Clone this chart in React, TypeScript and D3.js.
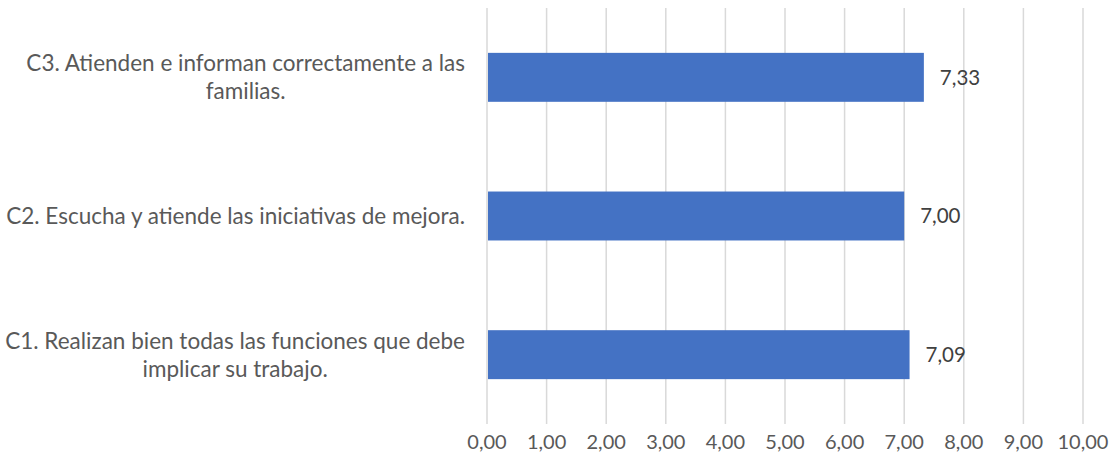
import { useEffect, useRef } from "react";
import * as d3 from "d3";

// categorías (de arriba a abajo) y valores
const categories = ["C3", "C2", "C1"];
const labelLines = [
  ["C3. Atienden e informan correctamente a las", "familias."],
  ["C2. Escucha y atiende las iniciativas de mejora."],
  ["C1. Realizan bien todas las funciones que debe", "implicar su trabajo."],
];
const values = [7.33, 7.0, 7.09];
const ticks = [0, 1, 2, 3, 4, 5, 6, 7, 8, 9, 10];

const fmt = (v: number) => v.toFixed(2).replace(".", ",");

export default function App() {
  const svgRef = useRef<SVGSVGElement>(null);

  useEffect(() => {
    if (!svgRef.current) return;
    const svg = d3.select(svgRef.current);
    svg.selectAll("*").remove();

    const W = 1120;
    const H = 471;
    const left = 487;
    const right = 1083;
    const top = 8;
    const bottom = 424;
    const textColor = "#595959";
    const font = "Lato, 'Open Sans', sans-serif";

    const x = d3.scaleLinear().domain([0, 10]).range([left, right]);
    const y = d3.scaleBand().domain(categories).range([top, bottom]).paddingInner(0.647).paddingOuter(0.3235);

    svg.append("rect").attr("width", W).attr("height", H).attr("fill", "white");

    // rejilla
    svg.append("g").selectAll("line")
      .data(ticks)
      .join("line")
      .attr("x1", (d) => x(d)).attr("x2", (d) => x(d))
      .attr("y1", top).attr("y2", bottom)
      .attr("stroke", "#d9d9d9").attr("stroke-width", 1.5);

    // barras
    svg.append("g").selectAll("rect")
      .data(values)
      .join("rect")
      .attr("x", x(0) + 1)
      .attr("y", (_, i) => y(categories[i])!)
      .attr("width", (d) => x(d) - x(0) - 1)
      .attr("height", y.bandwidth())
      .attr("fill", "#4472c4");

    // etiquetas de valor
    svg.append("g").selectAll("text")
      .data(values)
      .join("text")
      .attr("x", (d) => x(d) + 16)
      .attr("y", (_, i) => y(categories[i])! + y.bandwidth() / 2)
      .attr("dy", "0.35em")
      .attr("fill", "#404040")
      .style("font-family", font).style("font-size", "20.5px")
      .text((d) => fmt(d));

    // eje x
    svg.append("g").selectAll("text")
      .data(ticks)
      .join("text")
      .attr("x", (d) => x(d))
      .attr("y", 442)
      .attr("dy", "0.35em")
      .attr("text-anchor", "middle")
      .attr("fill", textColor)
      .style("font-family", font).style("font-size", "20px")
      .text((d) => fmt(d));

    // etiquetas de categoría: bloque alineado a la derecha, líneas centradas
    const labelRight = 465;
    const lineH = 28;
    labelLines.forEach((lines, i) => {
      const cy = y(categories[i])! + y.bandwidth() / 2;
      const g = svg.append("g");
      const texts = g.selectAll("text")
        .data(lines)
        .join("text")
        .attr("y", (_, j) => cy + (j - (lines.length - 1) / 2) * lineH)
        .attr("dy", "0.35em")
        .attr("text-anchor", "middle")
        .attr("fill", textColor)
        .style("font-family", font).style("font-size", "22.5px")
        .text((d) => d);
      let maxW = 0;
      texts.each(function () {
        maxW = Math.max(maxW, (this as SVGTextElement).getComputedTextLength());
      });
      texts.attr("x", labelRight - maxW / 2);
    });
  }, []);

  return (
    <svg
      ref={svgRef}
      width={1120}
      height={471}
      style={{ position: "absolute", left: 0, top: 0, display: "block" }}
    />
  );
}
